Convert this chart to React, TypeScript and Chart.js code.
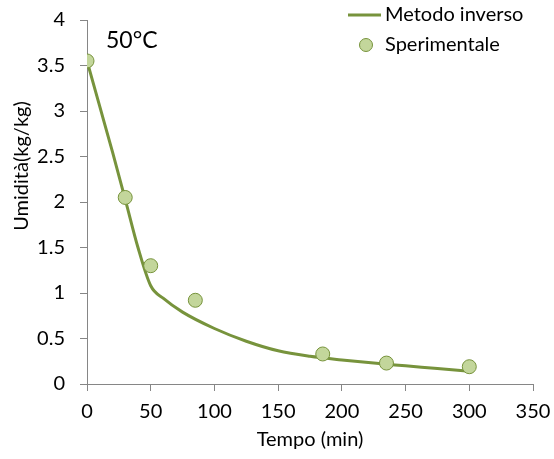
import React, { useEffect, useRef } from "react";
import { Chart, registerables } from "chart.js";

Chart.register(...registerables);

const curveX = [0, 10, 20, 30, 40, 50, 60, 75, 100, 125, 150, 175, 200, 225, 250, 275, 300];
const curveY = [3.55, 3.05, 2.55, 2.03, 1.5, 1.08, 0.94, 0.79, 0.61, 0.47, 0.365, 0.305, 0.265, 0.23, 0.2, 0.17, 0.14];

const expX = [0, 30, 50, 85, 185, 235, 300];
const expY = [3.55, 2.05, 1.3, 0.92, 0.33, 0.23, 0.19];

const xTicks = [0, 50, 100, 150, 200, 250, 300, 350];
const yTicks = [0, 0.5, 1, 1.5, 2, 2.5, 3, 3.5, 4];

const seriesLine = "Metodo inverso";
const seriesPoints = "Sperimentale";
const xTitle = "Tempo (min)";
const yTitle = "Umidità(kg/kg)";
const note = "50°C";

const LINE = "#77933C";
const FILL = "#C3D69B";
const AXIS = "#868686";
const FONT = "Lato";
const FS = 20;

export default function App() {
  const ref = useRef<HTMLCanvasElement | null>(null);
  useEffect(() => {
    if (!ref.current) return;
    const extras = {
      id: "extras",
      afterDraw(chart: any) {
        const ctx = chart.ctx;
        const area = chart.chartArea;
        ctx.save();
        ctx.fillStyle = "#000";
        ctx.textBaseline = "middle";
        // note
        ctx.font = `23px ${FONT}`;
        ctx.textAlign = "left";
        ctx.fillText(note, 106, 41);
        // legend
        ctx.font = `${FS}px ${FONT}`;
        ctx.strokeStyle = LINE;
        ctx.lineWidth = 3;
        ctx.beginPath();
        ctx.moveTo(348, 15);
        ctx.lineTo(381, 15);
        ctx.stroke();
        ctx.fillText(seriesLine, 385, 15);
        ctx.beginPath();
        ctx.arc(366, 45, 6.5, 0, Math.PI * 2);
        ctx.fillStyle = FILL;
        ctx.fill();
        ctx.lineWidth = 1;
        ctx.stroke();
        ctx.fillStyle = "#000";
        ctx.fillText(seriesPoints, 385, 45);
        // x title
        ctx.textAlign = "center";
        ctx.fillText(xTitle, (area.left + area.right) / 2, 440);
        // y title
        ctx.translate(22, 166);
        ctx.rotate(-Math.PI / 2);
        ctx.fillText(yTitle, 0, 0);
        ctx.restore();
      },
    };
    const chart = new Chart(ref.current, {
      type: "scatter",
      data: {
        datasets: [
          {
            type: "line",
            label: seriesLine,
            data: curveX.map((x, i) => ({ x, y: curveY[i] })),
            borderColor: LINE,
            borderWidth: 3,
            pointRadius: 0,
            cubicInterpolationMode: "monotone",
            fill: false,
            order: 2,
          } as any,
          {
            label: seriesPoints,
            data: expX.map((x, i) => ({ x, y: expY[i] })),
            backgroundColor: FILL,
            borderColor: LINE,
            borderWidth: 1,
            pointRadius: 7,
            order: 1,
          },
        ],
      },
      options: {
        responsive: false,
        animation: false,
        layout: { padding: { top: 20, right: 21, left: 0, bottom: 0 } },
        plugins: { legend: { display: false }, tooltip: { enabled: false } },
        scales: {
          x: {
            type: "linear",
            min: 0,
            max: 350,
            afterBuildTicks: (s: any) => {
              s.ticks = xTicks.map((v) => ({ value: v }));
            },
            afterFit: (s: any) => {
              s.height = 75;
              s.paddingLeft = 0;
              s.paddingRight = 0;
              s.paddingTop = 0;
              s.paddingBottom = 0;
            },
            ticks: {
              color: "#000",
              font: { family: FONT, size: FS },
              padding: 9,
              maxRotation: 0,
              callback: (v: any) => String(v),
            },
            grid: { drawOnChartArea: false, drawTicks: true, tickLength: 7, color: AXIS },
            border: { color: AXIS, width: 1 },
          },
          y: {
            type: "linear",
            min: 0,
            max: 4,
            afterBuildTicks: (s: any) => {
              s.ticks = yTicks.map((v) => ({ value: v }));
            },
            afterFit: (s: any) => {
              s.width = 87;
              s.paddingLeft = 0;
              s.paddingRight = 0;
              s.paddingTop = 0;
              s.paddingBottom = 0;
            },
            ticks: {
              color: "#000",
              font: { family: FONT, size: FS },
              padding: 15,
              callback: (v: any) => String(v),
            },
            grid: { drawOnChartArea: false, drawTicks: true, tickLength: 7, color: AXIS },
            border: { color: AXIS, width: 1 },
          },
        },
      },
      plugins: [extras],
    });
    return () => chart.destroy();
  }, []);
  return (
    <div style={{ position: "fixed", left: 0, top: 0, width: 554, height: 459, background: "#fff" }}>
      <canvas ref={ref} width={554} height={459} style={{ width: 554, height: 459 }} />
    </div>
  );
}
